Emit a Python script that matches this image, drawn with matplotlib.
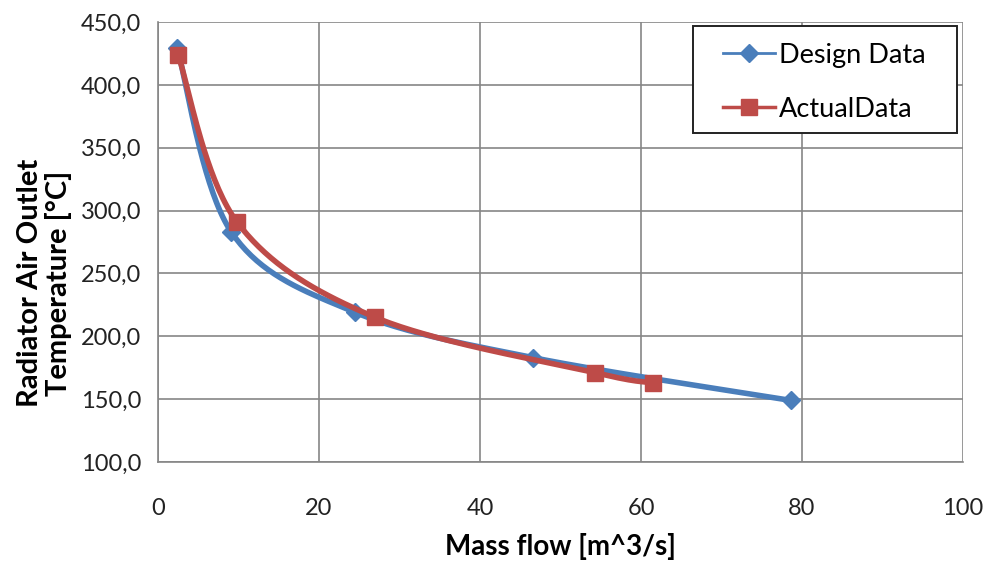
import numpy as np
import matplotlib
matplotlib.use("Agg")
import matplotlib.pyplot as plt
from matplotlib.ticker import FuncFormatter
from matplotlib.patches import Rectangle

design_x = [2.4, 9.1, 24.5, 46.6, 78.6]
design_y = [429, 283, 219, 183, 149]
actual_x = [2.5, 9.8, 27.0, 54.3, 61.5]
actual_y = [424, 291, 215, 171, 163]
x_ticks = [0, 20, 40, 60, 80, 100]
y_ticks = [100, 150, 200, 250, 300, 350, 400, 450]

plt.rcParams['font.family'] = ['Lato', 'DejaVu Sans']


def smooth(xs, ys, n=40):
    # Excel-like smoothed line: Bezier segments with Catmull-Rom tangents
    p = np.column_stack([xs, ys]).astype(float)
    out = []
    m = len(p)
    for i in range(m - 1):
        p0 = p[i - 1] if i > 0 else p[i]
        p1 = p[i]
        p2 = p[i + 1]
        p3 = p[i + 2] if i + 2 < m else p[i + 1]
        c1 = p1 + (p2 - p0) / 6.0
        c2 = p2 - (p3 - p1) / 6.0
        t = np.linspace(0, 1, n)[:, None]
        seg = ((1 - t) ** 3) * p1 + 3 * ((1 - t) ** 2) * t * c1 + 3 * (1 - t) * t ** 2 * c2 + t ** 3 * p2
        out.append(seg if i == 0 else seg[1:])
    s = np.vstack(out)
    return s[:, 0], s[:, 1]


fig = plt.figure(figsize=(9.85, 5.67), dpi=100)
ax = fig.add_axes([0.1604, 0.1852, 0.8173, 0.776])

blue = '#4A7EBB'
red = '#BE4B48'

sx, sy = smooth(design_x, design_y)
ax.plot(sx, sy, color=blue, lw=4.0, solid_capstyle='round', zorder=3)
ax.plot(design_x, design_y, ls='none', marker='D', ms=9, color=blue, zorder=4)
ax.plot([], [], color=blue, lw=2, marker='D', ms=9, label='Design Data')

sx, sy = smooth(actual_x, actual_y)
ax.plot(sx, sy, color=red, lw=4.0, solid_capstyle='round', zorder=5)
ax.plot(actual_x, actual_y, ls='none', marker='s', ms=12, color=red, zorder=6)
ax.plot([], [], color=red, lw=2.5, marker='s', ms=12, label='ActualData')

ax.set_xlim(0, 100)
ax.set_ylim(100, 450)
ax.set_xticks(x_ticks)
ax.set_yticks(y_ticks)
ax.yaxis.set_major_formatter(FuncFormatter(lambda v, p: f"{v:.1f}".replace('.', ',')))
ax.grid(True, color='#868686', lw=1.2)
ax.set_axisbelow(True)
for s in ['top', 'right']:
    ax.spines[s].set_visible(False)
for s in ['left', 'bottom']:
    ax.spines[s].set_color('#868686')
    ax.spines[s].set_linewidth(1.2)
ax.tick_params(axis='both', length=0, labelsize=17, labelcolor='#222222')
ax.tick_params(axis='x', pad=26)
ax.tick_params(axis='y', pad=12)

ax.set_xlabel('Mass flow [m^3/s]', fontsize=20, fontweight='bold', labelpad=10)
fig.text(30 / 985, 0.501, 'Radiator Air Outlet', rotation=90, ha='center', va='center',
         fontsize=21, fontweight='bold')
fig.text(59 / 985, 0.501, 'Temperature [°C]', rotation=90, ha='center', va='center',
         fontsize=21, fontweight='bold')

# legend frame (Excel-style box)
ax.add_patch(Rectangle((0.6646, 0.7477), 0.3279, 0.2433, transform=ax.transAxes,
                       facecolor='white', edgecolor='#222222', lw=1.4, zorder=10,
                       clip_on=False))
leg = ax.legend(loc='upper left', bbox_to_anchor=(0.7019, 0.953), fontsize=19.5,
                frameon=False, handlelength=1.92, handletextpad=0.15, borderpad=0,
                labelspacing=1.07, borderaxespad=0)
leg.set_zorder(11)

fig.savefig('out.png', dpi=100)
